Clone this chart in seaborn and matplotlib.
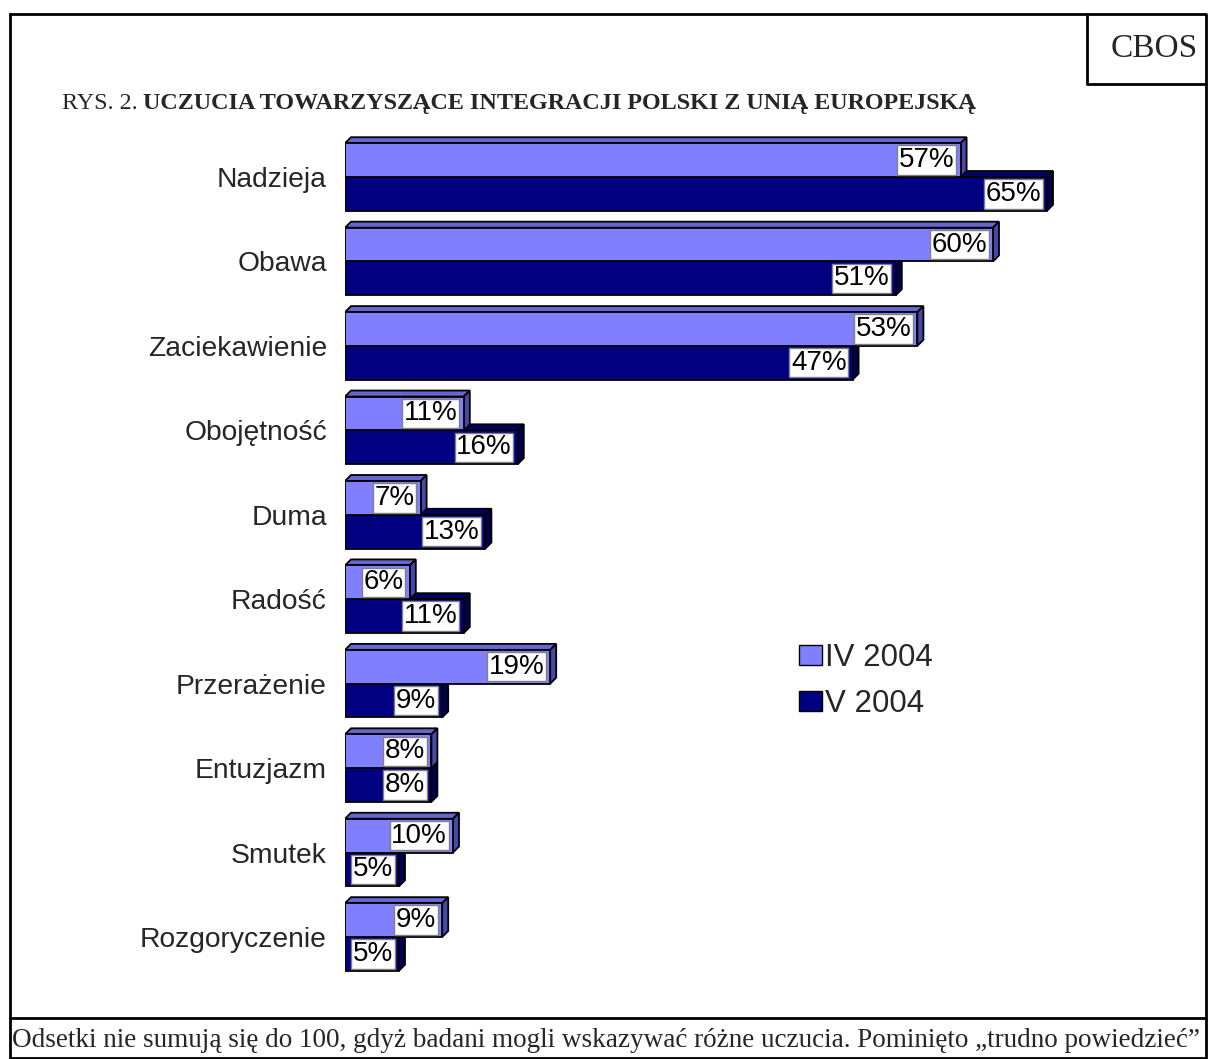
import matplotlib
matplotlib.use("Agg")
import matplotlib.pyplot as plt
from matplotlib.patches import Polygon, Patch
from matplotlib.lines import Line2D
import seaborn as sns
import pandas as pd

# Survey results: feelings accompanying Poland's EU integration (%)
uczucia = ["Nadzieja", "Obawa", "Zaciekawienie", "Obojętność", "Duma",
           "Radość", "Przerażenie", "Entuzjazm", "Smutek", "Rozgoryczenie"]
okresy = ["IV 2004", "V 2004"]
kwiecien_2004 = [57, 60, 53, 11, 7, 6, 19, 8, 10, 9]
maj_2004 = [65, 51, 47, 16, 13, 11, 9, 8, 5, 5]

tytul_numer = "RYS. 2."
tytul = "UCZUCIA TOWARZYSZĄCE INTEGRACJI POLSKI Z UNIĄ EUROPEJSKĄ"
przypis = ("Odsetki nie sumują się do 100, gdyż badani mogli wskazywać różne uczucia. "
           "Pominięto „trudno powiedzieć”")

df = pd.DataFrame({
    "uczucie": uczucia * 2,
    "odsetek": kwiecien_2004 + maj_2004,
    "okres": [okresy[0]] * len(uczucia) + [okresy[1]] * len(uczucia),
})

W, H = 1208, 1059
LIGHT, DARK = "#8080FF", "#000080"
LIGHT_TOP, LIGHT_SIDE = "#6666D0", "#4848A8"
DARK_TOP, DARK_SIDE = "#000066", "#00004C"

sns.set_theme(style="white")
plt.rcParams["font.family"] = ["Liberation Sans", "DejaVu Sans"]

fig = plt.figure(figsize=(W / 100, H / 100), dpi=100)
px_per_unit = 10.8
x0_px, x1_px = 345, 1200
y_top_px, y_bot_px = 130, 990
first_center, step = 177, 84.44
ax = fig.add_axes([x0_px / W, 1 - y_bot_px / H, (x1_px - x0_px) / W, (y_bot_px - y_top_px) / H])

sns.barplot(data=df, y="uczucie", x="odsetek", hue="okres", orient="h",
            hue_order=okresy, palette=[LIGHT, DARK], saturation=1, width=0.8,
            edgecolor="black", linewidth=1.3, legend=False, ax=ax)

ax.set_xlim(0, (x1_px - x0_px) / px_per_unit)
ax.set_ylim((y_bot_px - first_center) / step, (y_top_px - first_center) / step)
for s in ax.spines.values():
    s.set_visible(False)
ax.set_xticks([])
ax.set_xlabel("")
ax.set_ylabel("")
ax.tick_params(axis="y", length=0, pad=13, labelsize=20.3)

# 3-D bevel: top and side faces drawn behind each front face
dx = 6 / px_per_unit
dy = 6 / step
faces = [(LIGHT_TOP, LIGHT_SIDE, 3), (DARK_TOP, DARK_SIDE, 2)]
for container, (top_c, side_c, z) in zip(ax.containers, faces):
    for bar in container:
        bx, by = bar.get_x(), bar.get_y()
        bw, bh = bar.get_width(), bar.get_height()
        yt, yb = min(by, by + bh), max(by, by + bh)
        top = Polygon([(bx, yt), (bx + dx, yt - dy), (bx + bw + dx, yt - dy), (bx + bw, yt)],
                      closed=True, fc=top_c, ec="black", lw=1.3, zorder=z)
        side = Polygon([(bx + bw, yt), (bx + bw + dx, yt - dy), (bx + bw + dx, yb - dy), (bx + bw, yb)],
                       closed=True, fc=side_c, ec="black", lw=1.3, zorder=z)
        ax.add_patch(top)
        ax.add_patch(side)
        bar.set_zorder(z + 0.1)
        ax.annotate(f"{int(bw)}%", xy=(bx + bw, (yt + yb) / 2), xytext=(-6, 0),
                    textcoords="offset pixels", ha="right", va="center",
                    fontsize=20, color="black", zorder=z + 0.2,
                    bbox=dict(boxstyle="square,pad=0.06", fc="white", ec="#808080", lw=1))

handles = [Patch(fc=LIGHT, ec="black", lw=1), Patch(fc=DARK, ec="black", lw=1)]
ax.legend(handles, okresy, loc="center left",
          bbox_to_anchor=(799 / W, 1 - 681 / H), bbox_transform=fig.transFigure,
          frameon=False, fontsize=22.5, handlelength=0.75, handleheight=0.62,
          handletextpad=0.08, labelspacing=0.5, borderpad=0, borderaxespad=0)

# Frame, footer divider and CBOS box
def line(xs, ys, lw=2):
    fig.add_artist(Line2D([x / W for x in xs], [1 - y / H for y in ys],
                          color="black", lw=lw, transform=fig.transFigure))

line([10, 1206, 1206, 10, 10], [14, 14, 1058, 1058, 14])
line([10, 1206], [1018, 1018])
line([1087, 1087, 1206], [14, 84, 84])

fig.text(1154 / W, 1 - 49 / H, "CBOS", family="Liberation Serif", fontsize=24,
         ha="center", va="center")

t1 = fig.text(62 / W, 1 - 109 / H, tytul_numer, family="Liberation Serif", fontsize=17.4,
              ha="left", va="baseline")
fig.canvas.draw()
bb = t1.get_window_extent()
fig.text((bb.x1 + 5) / W, 1 - 109 / H, tytul, family="Liberation Serif", fontsize=17.4,
         fontweight="bold", ha="left", va="baseline")

fig.text(12 / W, 1 - 1047 / H, przypis, family="Liberation Serif", fontsize=19.5,
         ha="left", va="baseline")

fig.savefig("out.png", dpi=100)
